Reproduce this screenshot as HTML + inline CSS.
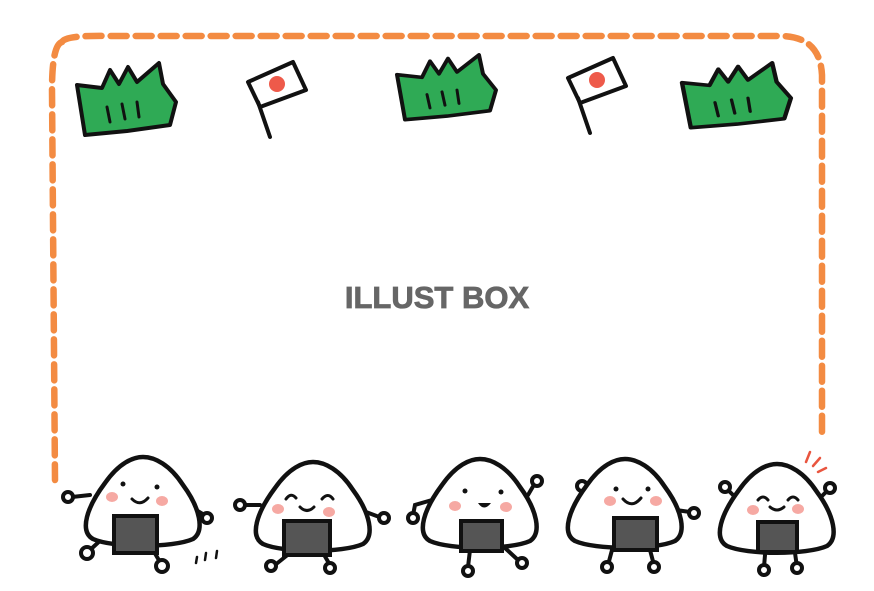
<!DOCTYPE html>
<html><head><meta charset="utf-8"><style>
html,body{margin:0;padding:0;background:#fff;width:874px;height:591px;overflow:hidden}
svg{display:block}
</style></head><body>
<svg width="874" height="591" viewBox="0 0 874 591" xmlns="http://www.w3.org/2000/svg">
<defs>
<g id="body">
<path d="M-50,36 C-64,28 -56,4 -38,-20 C-24,-40 -10,-46 0,-46 C12,-46 27,-38 40,-18 C57,5 62,28 50,36 C30,45 -30,45 -50,36Z" fill="#fff" stroke="#111" stroke-width="4.5"/>
</g>
<g id="grass">
<path d="M0,23 L25,26 L33,8 L42,22 L51,5 L60,20 L82,1 L86,22 L99,40 L93,63 L50,69 L8,73 Z" fill="#2faa55" stroke="#111" stroke-width="4" stroke-linejoin="round"/>
<path d="M30,45 L33,60 M45,42 L48,57 M60,40 L62,55" stroke="#111" stroke-width="3" stroke-linecap="round"/>
</g>
<g id="flag">
<path d="M0,20 L45,0 L58,28 L12,45 Z" fill="#fff" stroke="#111" stroke-width="4" stroke-linejoin="round"/>
<circle cx="29" cy="22" r="8" fill="#ee5a4a"/>
<path d="M10,40 L22,75" stroke="#111" stroke-width="4" stroke-linecap="round"/>
</g>
</defs>

<path d="M62,42 Q65,35 110,36 L780,36 Q820,36 822,75 L822,440 M62,42 Q52,45 52,90 L55,480" fill="none" stroke="#f38b42" stroke-width="6.5" stroke-dasharray="16 9" stroke-linecap="round"/>

<use href="#grass" transform="translate(77,62)"/>
<use href="#grass" transform="translate(397,54) scale(1,0.9)"/>
<use href="#grass" transform="translate(682,62) scale(1.1,0.9)"/>
<use href="#flag" transform="translate(248,62)"/>
<use href="#flag" transform="translate(568,58)"/>

<text x="437" y="308" text-anchor="middle" font-family="Liberation Sans, sans-serif" font-weight="bold" font-size="31" fill="#666" stroke="#666" stroke-width="0.8">ILLUST BOX</text>

<g stroke="#111" stroke-width="4" fill="#fff" stroke-linecap="round">
<path d="M90,495 L72,497 M196,510 L206,516 M103,538 L90,550 M150,545 L160,562"/>
<circle cx="68" cy="497" r="5"/><circle cx="207" cy="518" r="5"/><circle cx="87" cy="553" r="6"/><circle cx="162" cy="566" r="6"/>
<use href="#body" transform="translate(143,503)"/>
<path d="M260,505 L244,505 M366,512 L382,518 M290,553 L275,565 M323,553 L330,565"/>
<circle cx="240" cy="505" r="5"/><circle cx="384" cy="518" r="5"/><circle cx="271" cy="566" r="5"/><circle cx="330" cy="568" r="5"/>
<use href="#body" transform="translate(313,508)"/>
<path d="M432,500 L415,505 L413,515 M528,495 L535,483 M470,550 L468,567 M505,548 L518,560"/>
<circle cx="413" cy="518" r="5"/><circle cx="537" cy="481" r="5"/><circle cx="468" cy="571" r="5"/><circle cx="522" cy="563" r="5"/>
<use href="#body" transform="translate(480,505)"/>
<path d="M592,495 L583,488 M676,510 L690,512 M612,550 L608,565 M650,550 L654,565"/>
<circle cx="582" cy="486" r="5"/><circle cx="694" cy="513" r="5"/><circle cx="607" cy="567" r="5"/><circle cx="654" cy="567" r="5"/>
<use href="#body" transform="translate(625,505)"/>
<path d="M738,500 L728,490 M818,500 L828,490 M765,555 L764,567 M795,553 L797,567"/>
<circle cx="725" cy="487" r="5"/><circle cx="830" cy="488" r="5"/><circle cx="764" cy="570" r="5"/><circle cx="797" cy="568" r="5"/>
<use href="#body" transform="translate(777,510)"/>
</g>

<g fill="#555" stroke="#111" stroke-width="4">
<rect x="114" y="516" width="43" height="37"/>
<rect x="284" y="521" width="46" height="34"/>
<rect x="461" y="521" width="41" height="30"/>
<rect x="614" y="518" width="43" height="32"/>
<rect x="758" y="522" width="39" height="30"/>
</g>

<g fill="#f6a9a3">
<ellipse cx="112" cy="497" rx="6" ry="5"/><ellipse cx="162" cy="501" rx="6" ry="5"/>
<ellipse cx="278" cy="509" rx="6" ry="5"/><ellipse cx="329" cy="512" rx="6" ry="5"/>
<ellipse cx="455" cy="506" rx="6" ry="5"/><ellipse cx="506" cy="507" rx="6" ry="5"/>
<ellipse cx="610" cy="501" rx="6" ry="5"/><ellipse cx="656" cy="501" rx="6" ry="5"/>
<ellipse cx="753" cy="510" rx="6" ry="5"/><ellipse cx="798" cy="509" rx="6" ry="5"/>
</g>

<g fill="#111">
<circle cx="123" cy="484" r="2.5"/><circle cx="157" cy="487" r="2.5"/>
<circle cx="465" cy="491" r="2.5"/><circle cx="501" cy="492" r="2.5"/>
<circle cx="616" cy="489" r="2.5"/><circle cx="648" cy="489" r="2.5"/>
<path d="M478,503 Q484,512 491,503 Z"/>
</g>
<g fill="none" stroke="#111" stroke-width="3" stroke-linecap="round">
<path d="M132,499 Q140,507 148,498"/>
<path d="M286,499 Q291,492 296,498 M322,499 Q328,492 333,499 M300,507 Q307,514 314,507"/>
<path d="M623,499 Q632,509 641,498"/>
<path d="M758,500 Q763,494 768,500 M788,500 Q793,494 798,500 M770,507 Q777,513 784,507"/>
<path d="M197,557 L196,563 M206,553 L205,560 M217,551 L216,558" stroke-width="2.5"/>
</g>
<g stroke="#e9553f" stroke-width="2.5" stroke-linecap="round">
<path d="M806,462 L810,452 M813,466 L820,458 M818,472 L826,468"/>
</g>
</svg>
</body></html>
